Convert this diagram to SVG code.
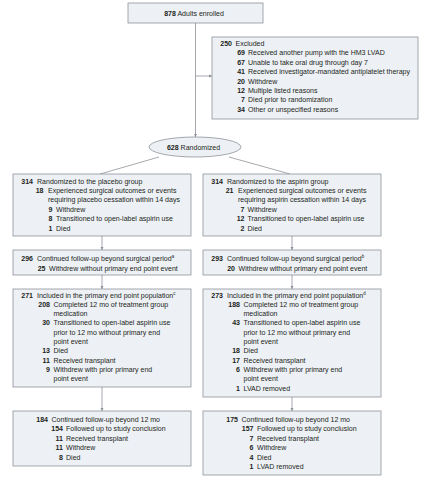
<svg xmlns="http://www.w3.org/2000/svg" width="425" height="481" viewBox="0 0 425 481">
<style>
.box{fill:#edf1f6;stroke:#8e9399;stroke-width:0.8}
.c{fill:none;stroke:#8e9399;stroke-width:0.8}
text{font-family:"Liberation Sans",Arial,sans-serif;font-size:8px;fill:#231f20}
.n{font-weight:bold;text-anchor:end}
.m{text-anchor:middle}
.b{font-weight:bold}
.sup{font-size:5px}
</style>
<defs>
<marker id="ah" viewBox="0 0 6 6" refX="6" refY="3" markerWidth="4" markerHeight="4" orient="auto"><path d="M0,0 L6,3 L0,6z" fill="#8e9399"/></marker>
</defs>
<rect width="425" height="481" fill="#ffffff"/>
<g id="connectors">
<path class="c" d="M195.5 23 V137" marker-end="url(#ah)"/>
<path class="c" d="M195.5 76 H212" marker-end="url(#ah)"/>
<path class="c" d="M159 157 L100 174"/>
<path class="c" d="M229 157 L290 174"/>
<path class="c" d="M102 236 V250" marker-end="url(#ah)"/>
<path class="c" d="M292 236 V250" marker-end="url(#ah)"/>
<path class="c" d="M102 275 V289" marker-end="url(#ah)"/>
<path class="c" d="M292 275 V289" marker-end="url(#ah)"/>
<path class="c" d="M102 387 V411" marker-end="url(#ah)"/>
<path class="c" d="M292 397 V411" marker-end="url(#ah)"/>
</g>
<g id="enrolled">
<rect class="box" x="128" y="3" width="135" height="20"/>
<text class="m" transform="translate(194 16) scale(.88 1)"><tspan class="b">878</tspan> Adults enrolled</text>
</g>
<g id="excluded">
<rect class="box" x="212" y="37" width="206" height="82"/>
<text class="n" transform="translate(232 46) scale(.88 1)">250</text><text transform="translate(235.5 46) scale(.88 1)">Excluded</text>
<text class="n" transform="translate(245 55.4) scale(.88 1)">69</text><text transform="translate(248 55.4) scale(.88 1)">Received another pump with the HM3 LVAD</text>
<text class="n" transform="translate(245 64.8) scale(.88 1)">67</text><text transform="translate(248 64.8) scale(.88 1)">Unable to take oral drug through day 7</text>
<text class="n" transform="translate(245 74.2) scale(.88 1)">41</text><text transform="translate(248 74.2) scale(.88 1)">Received investigator-mandated antiplatelet therapy</text>
<text class="n" transform="translate(245 83.6) scale(.88 1)">20</text><text transform="translate(248 83.6) scale(.88 1)">Withdrew</text>
<text class="n" transform="translate(245 93) scale(.88 1)">12</text><text transform="translate(248 93) scale(.88 1)">Multiple listed reasons</text>
<text class="n" transform="translate(245 102.4) scale(.88 1)">7</text><text transform="translate(248 102.4) scale(.88 1)">Died prior to randomization</text>
<text class="n" transform="translate(245 111.8) scale(.88 1)">34</text><text transform="translate(248 111.8) scale(.88 1)">Other or unspecified reasons</text>
</g>
<g id="randomized">
<ellipse class="box" cx="195" cy="147" rx="46" ry="10"/>
<text class="m" transform="translate(193.5 149.5) scale(.88 1)"><tspan class="b">628</tspan> Randomized</text>
</g>
<g id="placebo-group">
<rect class="box" x="13" y="174" width="178" height="62"/>
<text class="n" transform="translate(33 183.5) scale(.88 1)">314</text><text transform="translate(37 183.5) scale(.88 1)">Randomized to the placebo group</text>
<text class="n" transform="translate(43.5 192.9) scale(.88 1)">18</text><text transform="translate(48 192.9) scale(.88 1)">Experienced surgical outcomes or events</text>
<text transform="translate(48 202.3) scale(.88 1)">requiring placebo cessation within 14 days</text>
<text class="n" transform="translate(52.5 211.7) scale(.88 1)">9</text><text transform="translate(56 211.7) scale(.88 1)">Withdrew</text>
<text class="n" transform="translate(52.5 221.1) scale(.88 1)">8</text><text transform="translate(56 221.1) scale(.88 1)">Transitioned to open-label aspirin use</text>
<text class="n" transform="translate(52.5 230.5) scale(.88 1)">1</text><text transform="translate(56 230.5) scale(.88 1)">Died</text>
</g>
<g id="aspirin-group">
<rect class="box" x="203" y="174" width="178" height="62"/>
<text class="n" transform="translate(223 183.5) scale(.88 1)">314</text><text transform="translate(227 183.5) scale(.88 1)">Randomized to the aspirin group</text>
<text class="n" transform="translate(233.5 192.9) scale(.88 1)">21</text><text transform="translate(238 192.9) scale(.88 1)">Experienced surgical outcomes or events</text>
<text transform="translate(238 202.3) scale(.88 1)">requiring aspirin cessation within 14 days</text>
<text class="n" transform="translate(244.5 211.7) scale(.88 1)">7</text><text transform="translate(247.5 211.7) scale(.88 1)">Withdrew</text>
<text class="n" transform="translate(244.5 221.1) scale(.88 1)">12</text><text transform="translate(247.5 221.1) scale(.88 1)">Transitioned to open-label aspirin use</text>
<text class="n" transform="translate(244.5 230.5) scale(.88 1)">2</text><text transform="translate(247.5 230.5) scale(.88 1)">Died</text>
</g>
<g id="placebo-followup">
<rect class="box" x="13" y="250" width="178" height="25"/>
<text class="n" transform="translate(33 261) scale(.88 1)">296</text><text transform="translate(37 261) scale(.88 1)">Continued follow-up beyond surgical period<tspan class="sup" dy="-3">a</tspan></text>
<text class="n" transform="translate(45.5 270.6) scale(.88 1)">25</text><text transform="translate(49 270.6) scale(.88 1)">Withdrew without primary end point event</text>
</g>
<g id="aspirin-followup">
<rect class="box" x="203" y="250" width="178" height="25"/>
<text class="n" transform="translate(223 261) scale(.88 1)">293</text><text transform="translate(227 261) scale(.88 1)">Continued follow-up beyond surgical period<tspan class="sup" dy="-3">b</tspan></text>
<text class="n" transform="translate(235 270.6) scale(.88 1)">20</text><text transform="translate(238.5 270.6) scale(.88 1)">Withdrew without primary end point event</text>
</g>
<g id="placebo-primary">
<rect class="box" x="13" y="289" width="178" height="98"/>
<text class="n" transform="translate(33 297.5) scale(.88 1)">271</text><text transform="translate(37 297.5) scale(.88 1)">Included in the primary end point population<tspan class="sup" dy="-3">c</tspan></text>
<text class="n" transform="translate(50 306.8) scale(.88 1)">208</text><text transform="translate(53.5 306.8) scale(.88 1)">Completed 12 mo of treatment group</text>
<text transform="translate(53.5 316.1) scale(.88 1)">medication</text>
<text class="n" transform="translate(50 325.4) scale(.88 1)">30</text><text transform="translate(53.5 325.4) scale(.88 1)">Transitioned to open-label aspirin use</text>
<text transform="translate(53.5 334.7) scale(.88 1)">prior to 12 mo without primary end</text>
<text transform="translate(53.5 344) scale(.88 1)">point event</text>
<text class="n" transform="translate(50 353.3) scale(.88 1)">13</text><text transform="translate(53.5 353.3) scale(.88 1)">Died</text>
<text class="n" transform="translate(50 362.6) scale(.88 1)">11</text><text transform="translate(53.5 362.6) scale(.88 1)">Received transplant</text>
<text class="n" transform="translate(50 371.9) scale(.88 1)">9</text><text transform="translate(53.5 371.9) scale(.88 1)">Withdrew with prior primary end</text>
<text transform="translate(53.5 381.2) scale(.88 1)">point event</text>
</g>
<g id="aspirin-primary">
<rect class="box" x="203" y="289" width="178" height="108"/>
<text class="n" transform="translate(223 297.5) scale(.88 1)">273</text><text transform="translate(227 297.5) scale(.88 1)">Included in the primary end point population<tspan class="sup" dy="-3">d</tspan></text>
<text class="n" transform="translate(240 306.8) scale(.88 1)">188</text><text transform="translate(243.5 306.8) scale(.88 1)">Completed 12 mo of treatment group</text>
<text transform="translate(243.5 316.1) scale(.88 1)">medication</text>
<text class="n" transform="translate(240 325.4) scale(.88 1)">43</text><text transform="translate(243.5 325.4) scale(.88 1)">Transitioned to open-label aspirin use</text>
<text transform="translate(243.5 334.7) scale(.88 1)">prior to 12 mo without primary end</text>
<text transform="translate(243.5 344) scale(.88 1)">point event</text>
<text class="n" transform="translate(240 353.3) scale(.88 1)">18</text><text transform="translate(243.5 353.3) scale(.88 1)">Died</text>
<text class="n" transform="translate(240 362.6) scale(.88 1)">17</text><text transform="translate(243.5 362.6) scale(.88 1)">Received transplant</text>
<text class="n" transform="translate(240 371.9) scale(.88 1)">6</text><text transform="translate(243.5 371.9) scale(.88 1)">Withdrew with prior primary end</text>
<text transform="translate(243.5 381.2) scale(.88 1)">point event</text>
<text class="n" transform="translate(240 390.5) scale(.88 1)">1</text><text transform="translate(243.5 390.5) scale(.88 1)">LVAD removed</text>
</g>
<g id="placebo-beyond12">
<rect class="box" x="13" y="411" width="178" height="55"/>
<text class="n" transform="translate(48 421.5) scale(.88 1)">184</text><text transform="translate(51.5 421.5) scale(.88 1)">Continued follow-up beyond 12 mo</text>
<text class="n" transform="translate(63 431) scale(.88 1)">154</text><text transform="translate(66 431) scale(.88 1)">Followed up to study conclusion</text>
<text class="n" transform="translate(63 440.5) scale(.88 1)">11</text><text transform="translate(66 440.5) scale(.88 1)">Received transplant</text>
<text class="n" transform="translate(63 450) scale(.88 1)">11</text><text transform="translate(66 450) scale(.88 1)">Withdrew</text>
<text class="n" transform="translate(63 459.5) scale(.88 1)">8</text><text transform="translate(66 459.5) scale(.88 1)">Died</text>
</g>
<g id="aspirin-beyond12">
<rect class="box" x="203" y="411" width="178" height="64"/>
<text class="n" transform="translate(238 421.5) scale(.88 1)">175</text><text transform="translate(241.5 421.5) scale(.88 1)">Continued follow-up beyond 12 mo</text>
<text class="n" transform="translate(253.5 431) scale(.88 1)">157</text><text transform="translate(257 431) scale(.88 1)">Followed up to study conclusion</text>
<text class="n" transform="translate(253.5 440.5) scale(.88 1)">7</text><text transform="translate(257 440.5) scale(.88 1)">Received transplant</text>
<text class="n" transform="translate(253.5 450) scale(.88 1)">6</text><text transform="translate(257 450) scale(.88 1)">Withdrew</text>
<text class="n" transform="translate(253.5 459.5) scale(.88 1)">4</text><text transform="translate(257 459.5) scale(.88 1)">Died</text>
<text class="n" transform="translate(253.5 469) scale(.88 1)">1</text><text transform="translate(257 469) scale(.88 1)">LVAD removed</text>
</g>
</svg>
